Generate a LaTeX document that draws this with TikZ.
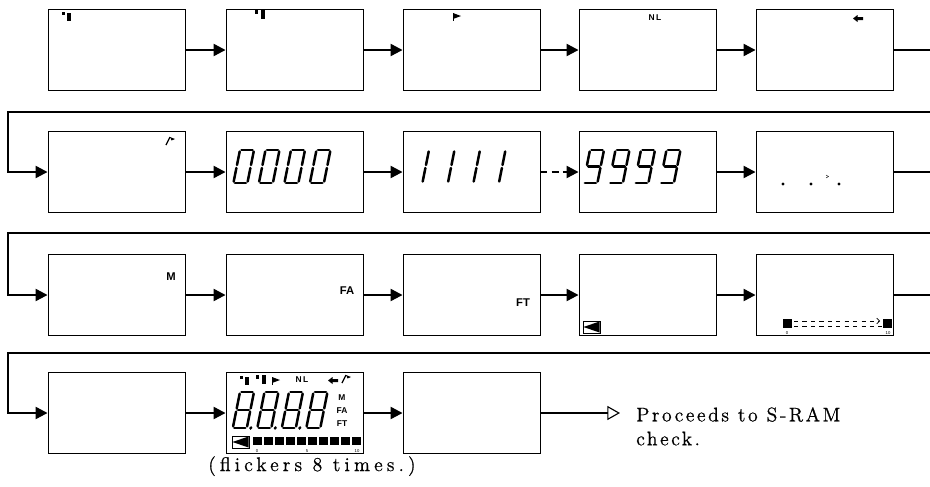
\documentclass[tikz,border=0pt]{standalone}
\usepackage{fontspec}
\newfontfamily\tagfont{Liberation Sans}
\newfontfamily\notefont[LetterSpace=13,FakeBold=0.8]{Latin Modern Roman}
\newfontfamily\flickfont[LetterSpace=21,FakeBold=0.8]{Latin Modern Roman}
\usetikzlibrary{arrows.meta,positioning}
\tikzset{>=latex}
\tikzset{
  panel/.style={draw, line width=0.6pt, minimum width=3.425cm, minimum height=2.03cm, inner sep=0pt},
  plain/.style={line width=1.6pt},
  flow/.style={line width=1.6pt, -{Triangle[length=8.5pt,width=8.5pt]}},
  seg/.style={line width=1.8pt, line cap=round},
  tag/.style={font=\tagfont\bfseries\fontsize{8}{8}\selectfont, inner sep=0pt},
  smalltag/.style={font=\tagfont\bfseries\fontsize{6}{6}\selectfont, inner sep=0pt},
  scale mark/.style={font=\tagfont\fontsize{3}{3}\selectfont, inner sep=0pt},
  note/.style={font=\notefont\fontsize{14}{17}\selectfont, inner sep=0pt, align=left},
  % LCD symbols
  pics/bars one/.style={code={\fill (0,0) rectangle (3,3); \fill (5,1) rectangle (8.5,9);}},
  pics/bars two/.style={code={\fill (0,0) rectangle (3,3.5); \fill (6,0) rectangle (9.5,9);}},
  pics/pennant/.style={code={\fill (0,0) -- (8,3) -- (0,6) -- cycle; \fill (0,0) rectangle (1.3,8);}},
  pics/backarrow/.style={code={\fill (0,3.5) -- (4.5,0) -- (4.5,2) -- (10,2) -- (10,5) -- (4.5,5) -- (4.5,7) -- cycle;}},
  pics/slashflag/.style={code={\draw[line width=0.9pt] (0,8) -- (4,0); \fill (4,0) -- (9,2) -- (5.5,3.5) -- cycle;}},
  pics/lowbatt/.style={code={\draw[line width=0.6pt] (0,0) rectangle (17,12); \fill (0.5,6) -- (16.5,0.5) -- (16.5,11.5) -- cycle;}},
}

% seven segment digit: left x, top y, segments, height factor
\newcommand{\segdigit}[4]{%
  \begin{scope}[shift={(#1,#2)}, xslant=0.2, yscale=#4]
    \foreach \s in {#3}{%
      \ifcase\s
        \draw[seg] (1.5,0) -- (12.5,0);
      \or \draw[seg] (14,1.5) -- (14,15);
      \or \draw[seg] (14,18) -- (14,31.5);
      \or \draw[seg] (1.5,33) -- (12.5,33);
      \or \draw[seg] (0,18) -- (0,31.5);
      \or \draw[seg] (0,1.5) -- (0,15);
      \or \draw[seg] (1.5,16.5) -- (12.5,16.5);
      \or \fill (18,33) circle (1.7);
      \fi}
  \end{scope}}

\begin{document}
\begin{tikzpicture}[x=0.025cm, y=-0.025cm]
\useasboundingbox (0,0) rectangle (930,487);

% panels
\foreach \r/\yy in {1/50,2/172,3/295}
  \foreach \c/\xx in {1/116.5,2/294.5,3/471.5,4/647.5,5/824.5}
    \node[panel] (b\r\c) at (\xx,\yy) {};
\foreach \c/\xx in {1/116.5,2/294.5,3/471.5}
  \node[panel] (b4\c) at (\xx,413) {};

% arrows inside the rows
\foreach \c/\n in {1/2,2/3,3/4,4/5}{
  \draw[flow] (b1\c.east) -- (b1\n.west);
  \draw[flow] (b3\c.east) -- (b3\n.west);
}
\foreach \c/\n in {1/2,2/3,4/5}
  \draw[flow] (b2\c.east) -- (b2\n.west);
\draw[flow, dash pattern=on 5pt off 3pt] (b23.east) -- (b24.west);
\draw[flow] (b41.east) -- (b42.west);
\draw[flow] (b42.east) -- (b43.west);

% wrap to next row
\coordinate (lft) at (8,0);
\coordinate (rgt) at (930,0);
\foreach \r in {1,2,3}
  \draw[plain] (b\r5.east) -- (b\r5.east -| rgt);
\foreach \r/\yy in {2/112,3/233,4/353}{
  \coordinate (ret\r) at (930,\yy);
  \draw[flow] (ret\r) -| (lft |- b\r1.west) -- (b\r1.west);
}

% end
\coordinate (fin) at (620,413);
\draw[plain, -{Triangle[open,length=9pt,width=10pt,line width=0.8pt]}] (b43.east) -- (fin);
\node[note, anchor=north west] (proc) at (636,407) {Proceeds to S-RAM\\check.};
\node[note, font=\flickfont\fontsize{14}{17}\selectfont, anchor=north west] (flick) at (208,456) {(flickers 8 times.)};

% row 1 symbols
\pic at (62,12) {bars one};
\pic at (255,10) {bars two};
\pic at (453,13) {pennant};
\node[smalltag] (nl) at (655,18) {N\,L};
\pic at (853,15) {backarrow};

% row 2 digits
\pic at (166,137) {slashflag};
\foreach \i in {0,...,3}
  \segdigit{240+25.5*\i}{150}{0,1,2,3,4,5}{1};
\foreach \i in {0,...,3}
  \segdigit{415+25.5*\i}{150}{1,2}{1};
\foreach \i in {0,...,3}
  \segdigit{590+25.5*\i}{150}{0,1,2,3,5,6}{1};
\foreach \xx in {783,811,839}
  \fill (\xx,184) circle (1.7);
\draw[line width=0.3pt] (826,175) -- (828.5,176.5) -- (826,178);

% row 3 symbols
\node[tag] (m) at (171,277) {M};
\node[tag] (fa) at (347,291) {FA};
\node[tag] (ft) at (523,303) {FT};
\pic at (583,321) {lowbatt};
\fill (783,319) rectangle (792,328);
\fill (883,319) rectangle (892,328);
\draw[line width=0.5pt, dashed, -{Straight Barb[length=2pt]}] (794,321) -- (880,321);
\draw[line width=0.5pt, dashed] (794,326) -- (882,326);
\node[scale mark] at (787,333) {0};
\node[scale mark] at (888,333) {10};

% row 4, all segments on
\begin{scope}[shift={(240,376)}, scale=0.85]
  \pic at (0,0) {bars one};
\end{scope}
\begin{scope}[shift={(256,375)}, scale=0.85]
  \pic at (0,0) {bars two};
\end{scope}
\begin{scope}[shift={(272,377)}, scale=0.85]
  \pic at (0,0) {pennant};
\end{scope}
\node[smalltag] at (302,380) {N\,L};
\begin{scope}[shift={(328,377)}, scale=0.85]
  \pic at (0,0) {backarrow};
\end{scope}
\begin{scope}[shift={(342,375)}, scale=0.85]
  \pic at (0,0) {slashflag};
\end{scope}
\foreach \i in {0,1,2}
  \segdigit{240+24.5*\i}{392}{0,1,2,3,4,5,6,7}{1.09};
\segdigit{313.5}{392}{0,1,2,3,4,5,6}{1.09};
\node[smalltag] at (342,398) {M};
\node[smalltag] at (342,411) {FA};
\node[smalltag] at (342,424) {FT};
\pic at (232,436) {lowbatt};
\foreach \i in {0,...,9}
  \fill (253+11*\i,437) rectangle +(9,8);
\node[scale mark] at (257,451) {0};
\node[scale mark] at (307,451) {5};
\node[scale mark] at (357,451) {10};
\end{tikzpicture}
\end{document}
